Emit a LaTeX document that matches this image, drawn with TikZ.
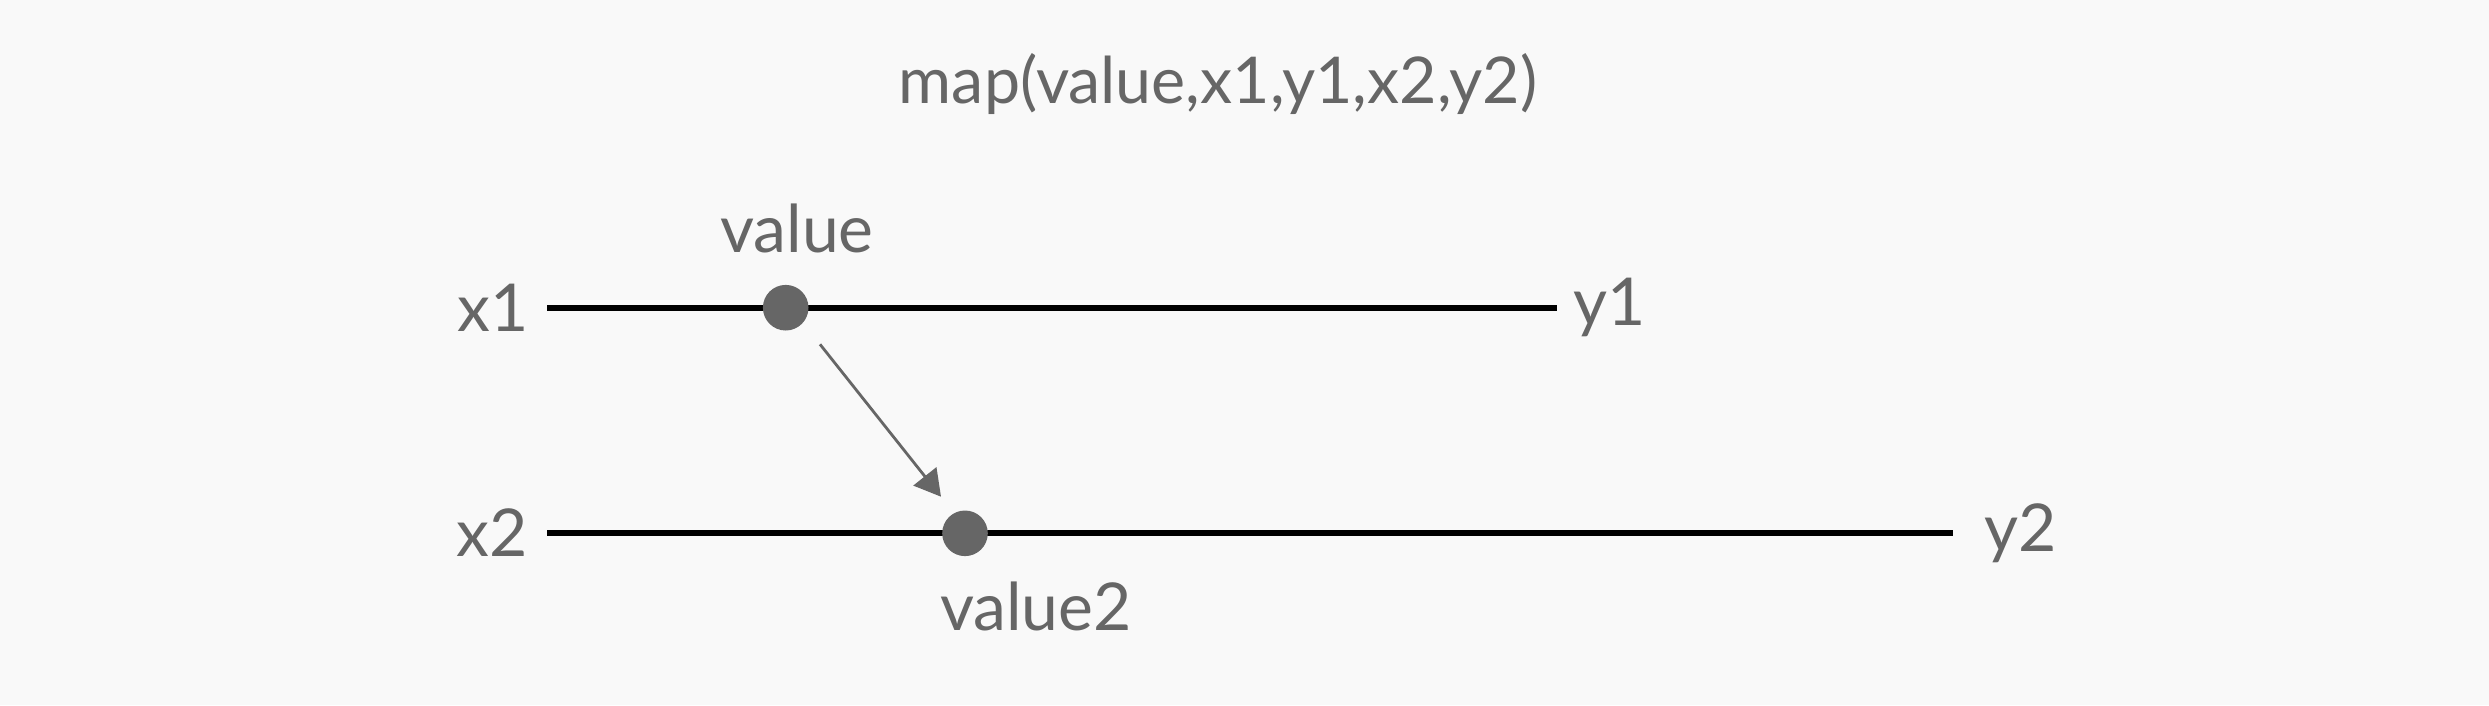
\documentclass[tikz,border=0pt]{standalone}
\usepackage{fontspec}
\setmainfont{Lato}
\usetikzlibrary{arrows.meta}
\definecolor{bg}{HTML}{F9F9F9}
\definecolor{ink}{HTML}{666666}
\begin{document}
\begin{tikzpicture}[x=1pt,y=-1pt,
  lbl/.style={text=ink,inner sep=0pt,font=\fontsize{66}{70}\selectfont},
  ttl/.style={text=ink,inner sep=0pt,font=\fontsize{64.5}{70}\selectfont},
  axisline/.style={line width=6pt,black},
  dot/.style={circle,fill=ink,minimum size=45.6pt,inner sep=0pt},
  maparrow/.style={draw=ink,line width=2.8pt,-{Triangle[length=26pt,width=29pt]}}]
\fill[bg] (0,0) rectangle (2489,705);
\useasboundingbox (0,0) rectangle (2489,705);
\node[ttl,anchor=base] (title) at (1218,103) {map(value,x1,y1,x2,y2)};
% line 1
\coordinate (l1s) at (547,307.7);
\coordinate (l1e) at (1557,307.7);
\draw[axisline] (l1s) -- (l1e);
\node[dot] (d1) at (785.7,307.7) {};
\node[lbl,anchor=base east] (x1) at (529,331.7) {x1};
\node[lbl,anchor=base west] (y1) at (1573,325.5) {y1};
\node[lbl,anchor=base] (v1) at (797,252.7) {value};
% line 2
\coordinate (l2s) at (547,533.3);
\coordinate (l2e) at (1953,533.3);
\draw[axisline] (l2s) -- (l2e);
\node[dot] (d2) at (965,533.3) {};
\node[lbl,anchor=base east] (x2) at (528,556) {x2};
\node[lbl,anchor=base west] (y2) at (1984,551.7) {y2};
\node[lbl,anchor=base] (v2) at (1036,630) {value2};
% arrow
\coordinate (a1) at (820,344.3);
\coordinate (a2) at (941,496.7);
\draw[maparrow] (a1) -- (a2);
\end{tikzpicture}
\end{document}
